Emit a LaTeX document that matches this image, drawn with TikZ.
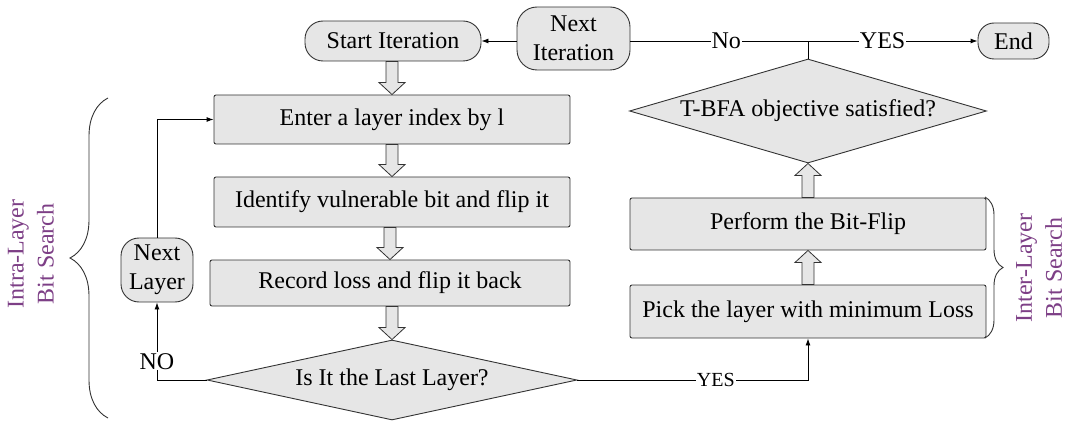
\documentclass[tikz,border=0pt]{standalone}
\usepackage{fontspec}
\setmainfont{Liberation Serif}
\usetikzlibrary{shapes.geometric,decorations.pathreplacing,arrows.meta,calc}

\definecolor{boxfill}{HTML}{E6E6E6}
\definecolor{edge}{HTML}{333333}
\definecolor{note}{HTML}{7D3F86}

% block arrows between stages (shaft 12pt, head 26pt wide, 12pt long)
\newcommand\flowdown[2]{%
  \path[blk] let \p1=(#1), \p2=(#2) in
    (\x2-6pt,\y1) -- (\x2-6pt,\y2+12pt) -- (\x2-13pt,\y2+12pt) -- (\x2,\y2)
    -- (\x2+13pt,\y2+12pt) -- (\x2+6pt,\y2+12pt) -- (\x2+6pt,\y1) -- cycle;}
\newcommand\flowup[2]{%
  \path[blk] let \p1=(#1), \p2=(#2) in
    (\x2-6pt,\y1) -- (\x2-6pt,\y2-12pt) -- (\x2-13pt,\y2-12pt) -- (\x2,\y2)
    -- (\x2+13pt,\y2-12pt) -- (\x2+6pt,\y2-12pt) -- (\x2+6pt,\y1) -- cycle;}

\begin{document}
\begin{tikzpicture}[x=1pt,y=-1pt,
  font=\fontsize{24}{29}\selectfont, line width=0.9pt,
  stage/.style={draw=edge, fill=boxfill, rounded corners=2pt, inner sep=0pt},
  term/.style={draw=edge, fill=boxfill, align=center, inner sep=0pt},
  choice/.style={diamond, draw=edge, fill=boxfill, inner sep=0pt, aspect=4},
  blk/.style={draw=edge, fill=boxfill, line width=0.8pt},
  link/.style={draw=black, -{Latex[length=7pt,width=5pt]}},
  plain/.style={draw=black},
  lab/.style={fill=white, inner sep=1pt},
  brc/.style={draw=edge, decorate, decoration={brace, amplitude=#1}},
  side/.style={text=note, rotate=90, align=center, font=\fontsize{24}{30}\selectfont}]

\useasboundingbox (0,0) rectangle (1071,422);

% terminals
\node[term, rounded corners=18pt, minimum width=176pt, minimum height=40pt]
  (start) at (393,41) {Start Iteration};
\node[term, rounded corners=20pt, minimum width=113pt, minimum height=63pt]
  (nextit) at (573.5,38.5) {Next\\Iteration};
\node[term, rounded corners=16pt, minimum width=71pt, minimum height=36pt]
  (end) at (1013.5,41) {End};
\node[term, rounded corners=18pt, minimum width=72pt, minimum height=64pt]
  (nextlayer) at (157,270) {Next\\Layer};

% intra-layer stages
\node[stage, minimum width=356pt, minimum height=49pt] (enter) at (392,119.5) {Enter a layer index by l};
\node[stage, minimum width=356pt, minimum height=50pt] (identify) at (392,202) {Identify vulnerable bit and flip it};
\node[stage, minimum width=360pt, minimum height=46pt] (record) at (390,283) {Record loss and flip it back};
\node[choice, minimum width=370pt, minimum height=80pt] (isit) at (392,380) {Is It the Last Layer?};

% inter-layer stages
\node[stage, minimum width=356pt, minimum height=53pt] (pick) at (808,311.5) {Pick the layer with minimum Loss};
\node[stage, minimum width=356pt, minimum height=52pt] (perform) at (808,224) {Perform the Bit-Flip};
\node[choice, minimum width=357pt, minimum height=104pt] (tbfa) at (808,111) {T-BFA objective satisfied?};

% block arrows
\flowdown{start.south}{enter.north}
\flowdown{enter.south}{identify.north}
\flowdown{identify.south}{record.north}
\flowdown{record.south}{isit.north}
\flowup{pick.north}{perform.south}
\flowup{perform.north}{tbfa.south}

% connectors
\coordinate (split) at (tbfa.north |- end.west);
\draw[link] (nextit.west |- start.east) -- (start.east);
\draw[plain] (tbfa.north) -- (split);
\draw[plain] (split) -- node[lab, pos=0.46] {No} (nextit.east |- split);
\draw[link] (split) -- node[lab, pos=0.44] {YES} (end.west);
\draw[link] (isit.west) -- (nextlayer.south |- isit.west)
  -- node[lab, pos=0.24] {NO} (nextlayer.south);
\draw[link] (nextlayer.north) |- (enter.west);
\draw[link] (isit.east) -| node[lab, pos=0.3, font=\fontsize{20}{24}\selectfont] {YES} (pick.south);

% search scopes
\draw[brc=38pt] (108,418) -- (108,98);
\node[side] (intra) at (31,254) {Intra-Layer\\Bit Search};
\draw[brc=18pt] (985,197) -- (985,338);
\node[side] (inter) at (1039,268) {Inter-Layer\\Bit Search};

\end{tikzpicture}
\end{document}
